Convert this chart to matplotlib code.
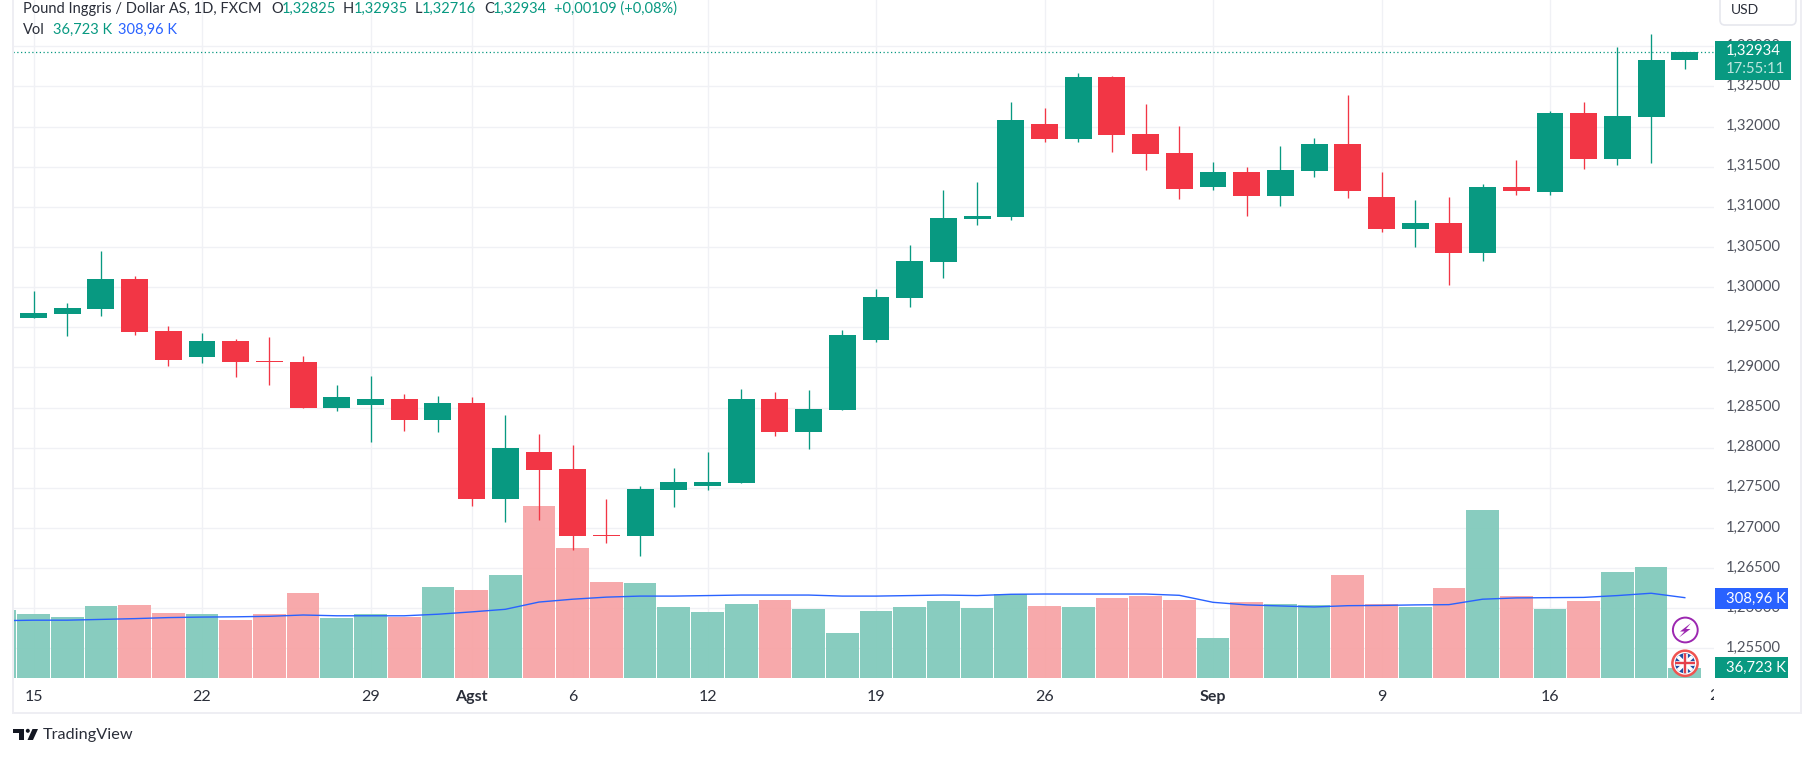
import numpy as np
import matplotlib
matplotlib.use("Agg")
import matplotlib.pyplot as plt
from matplotlib.patches import Circle, FancyBboxPatch, Polygon, Rectangle
from matplotlib.transforms import Bbox, ScaledTranslation

plt.rcParams["font.family"] = ["Lato", "DejaVu Sans"]

UP = "#089981"
DOWN = "#F23645"
UP_VOL = "#84CBBD"
DOWN_VOL = "#F7A6A8"
MA_BLUE = "#2962FF"
GRID = "#F0F1F5"
FRAME = "#EEEEF3"
TEXT = "#2A2E39"

open_ = [1.29615, 1.29665, 1.29727, 1.30101, 1.29453, 1.29129, 1.29329, 1.29080, 1.29067, 1.28494,
         1.28532, 1.28606, 1.28345, 1.28556, 1.27360, 1.27946, 1.27734, 1.26912, 1.26900, 1.27473,
         1.27522, 1.27560, 1.28606, 1.28195, 1.28469, 1.29341, 1.29865, 1.30313, 1.30849, 1.30874,
         1.32032, 1.31845, 1.32618, 1.31908, 1.31671, 1.31247, 1.31434, 1.31135, 1.31447, 1.31783,
         1.31123, 1.30724, 1.30799, 1.30425, 1.31247, 1.31185, 1.32169, 1.31596, 1.32119, 1.32825]
high = [1.29952, 1.29802, 1.30450, 1.30139, 1.29516, 1.29428, 1.29354, 1.29379, 1.29142, 1.28781,
        1.28893, 1.28669, 1.28644, 1.28631, 1.28407, 1.28170, 1.28033, 1.27360, 1.27522, 1.27747,
        1.27946, 1.28731, 1.28693, 1.28718, 1.29466, 1.29977, 1.30525, 1.31210, 1.31310, 1.32306,
        1.32232, 1.32668, 1.32630, 1.32281, 1.32007, 1.31559, 1.31497, 1.31758, 1.31858, 1.32393,
        1.31434, 1.31085, 1.31123, 1.31285, 1.31584, 1.32194, 1.32306, 1.32991, 1.33153, 1.32935]
low = [1.29615, 1.29391, 1.29640, 1.29404, 1.29017, 1.29055, 1.28880, 1.28781, 1.28494, 1.28457,
       1.28071, 1.28208, 1.28195, 1.27273, 1.27074, 1.27099, 1.26725, 1.26812, 1.26650, 1.27261,
       1.27473, 1.27560, 1.28145, 1.27983, 1.28469, 1.29316, 1.29752, 1.30114, 1.30774, 1.30836,
       1.31808, 1.31808, 1.31683, 1.31459, 1.31098, 1.31210, 1.30886, 1.31011, 1.31372, 1.31110,
       1.30687, 1.30500, 1.30026, 1.30325, 1.31148, 1.31148, 1.31472, 1.31521, 1.31546, 1.32716]
close = [1.29678, 1.29740, 1.30101, 1.29441, 1.29092, 1.29329, 1.29067, 1.29067, 1.28494, 1.28631,
         1.28606, 1.28345, 1.28556, 1.27360, 1.27996, 1.27722, 1.26900, 1.26900, 1.27485, 1.27572,
         1.27572, 1.28606, 1.28195, 1.28482, 1.29404, 1.29877, 1.30325, 1.30861, 1.30886, 1.32082,
         1.31845, 1.32618, 1.31895, 1.31658, 1.31222, 1.31434, 1.31135, 1.31459, 1.31783, 1.31198,
         1.30724, 1.30799, 1.30425, 1.31247, 1.31198, 1.32169, 1.31596, 1.32132, 1.32830, 1.32934]

# volume in K, one bar more on the left edge of the pane (index -1, up day)
prev_volume = 261
prev_ma = 220
volume = [246, 234, 277, 281, 250, 246, 223, 246, 327, 230,
          246, 234, 350, 339, 396, 663, 501, 369, 366, 273,
          254, 284, 300, 265, 173, 257, 273, 296, 269, 323,
          277, 273, 308, 315, 300, 153, 292, 284, 281, 396,
          284, 273, 346, 647, 315, 265, 296, 408, 427, 36.723]
vol_ma = [222, 222, 225, 228, 232, 234, 235, 237, 242, 239,
          239, 239, 245, 254, 264, 292, 303, 311, 315, 315,
          317, 319, 319, 319, 315, 315, 317, 319, 317, 322,
          323, 323, 323, 323, 318, 291, 281, 277, 273, 278,
          279, 281, 282, 303, 308, 309, 310, 317, 326, 308.96]

time_ticks = [0, 5, 10, 13, 16, 20, 25, 30, 35, 40, 45]
time_labels = ["15", "22", "29", "Agst", "6", "12", "19", "26", "Sep", "9", "16"]
price_ticks = [1.255, 1.26, 1.265, 1.27, 1.275, 1.28, 1.285, 1.29, 1.295,
               1.30, 1.305, 1.31, 1.315, 1.32, 1.325, 1.33]

W, H = 1814, 757
PANE_L, PANE_R, PANE_B = 13, 1714, 677.7
STEP = 33.7
X0 = 33.5

fig = plt.figure(figsize=(W / 100, H / 100), dpi=100, facecolor="white")
pos = [PANE_L / W, 1 - PANE_B / H, (PANE_R - PANE_L) / W, PANE_B / H]
xlim = ((PANE_L - X0) / STEP, (PANE_R - X0) / STEP)
price_lim = (1.335768 - PANE_B * 0.00012458, 1.335768)
vol_lim = (0, PANE_B * 3.86)

ax_grid = fig.add_axes(pos, zorder=1)
ax_vol = fig.add_axes(pos, zorder=2)
ax_price = fig.add_axes(pos, zorder=3)
for ax in (ax_grid, ax_vol, ax_price):
    ax.set_xlim(xlim)
    for s in ax.spines.values():
        s.set_visible(False)
ax_grid.set_ylim(price_lim)
ax_price.set_ylim(price_lim)
ax_vol.set_ylim(vol_lim)
ax_vol.patch.set_visible(False)
ax_price.patch.set_visible(False)
ax_vol.set_xticks([])
ax_vol.set_yticks([])
ax_price.set_xticks([])
ax_price.set_yticks([])

ax_grid.set_yticks(price_ticks)
ax_grid.set_yticklabels([f"{p:.5f}".replace(".", ",") for p in price_ticks])
ax_grid.yaxis.tick_right()
ax_grid.tick_params(axis="y", length=0, pad=8.5, labelsize=10.7, labelcolor="#50535E")
# scale labels sit about 2 px above their grid line
up_shift = ScaledTranslation(0, 2 / 100, fig.dpi_scale_trans)
for lab in ax_grid.get_yticklabels():
    lab.set_transform(lab.get_transform() + up_shift)
ax_grid.set_xticks(time_ticks)
ax_grid.set_xticklabels(time_labels)
ax_grid.tick_params(axis="x", length=0, pad=9, labelsize=11.5, labelcolor=TEXT)
for lab in ax_grid.get_xticklabels():
    if lab.get_text() in ("Agst", "Sep"):
        lab.set_fontweight("bold")
ax_grid.grid(True, color=GRID, lw=1.0)
ax_grid.set_axisbelow(True)

# next label is cut off by the price scale
cut = ax_grid.text(50, -0.0263, "23", transform=ax_grid.get_xaxis_transform(), ha="center", va="center",
                   fontsize=11.5, color=TEXT)
cut.set_clip_box(Bbox([[0, 0], [PANE_R, H]]))
cut.set_clip_on(True)

open_a, high_a, low_a, close_a = map(np.array, (open_, high, low, close))
x = np.arange(len(open_a))
colors = [UP if c >= o else DOWN for o, c in zip(open_a, close_a)]
vol_colors = [UP_VOL] + [UP_VOL if c == UP else DOWN_VOL for c in colors]

ax_vol.bar(np.r_[-1, x], np.r_[prev_volume, volume], width=0.97, color=vol_colors, linewidth=0, alpha=0.97)
ax_vol.plot(np.r_[-1, x], np.r_[prev_ma, vol_ma], color=MA_BLUE, lw=1.0, zorder=5)

ax_price.vlines(x, low_a, high_a, colors=colors, lw=0.95)
ax_price.bar(x, np.abs(close_a - open_a), bottom=np.minimum(open_a, close_a), width=0.8, color=colors, linewidth=0)
ax_price.axhline(close_a[-1], color=UP, lw=0.9, ls=(0, (1, 2)))

# page furniture and price scale tags, in pixels
ov = fig.add_axes([0, 0, 1, 1], zorder=10)
ov.set_xlim(0, W)
ov.set_ylim(H, 0)
ov.axis("off")

ov.add_patch(Rectangle((12, 0), 2.2, 713.5, color=FRAME, lw=0))
ov.add_patch(Rectangle((1800, 0), 2.4, 713.5, color=FRAME, lw=0))
ov.add_patch(Rectangle((12, 711.8), 1790, 2, color=FRAME, lw=0))
ov.add_patch(FancyBboxPatch((1720, -12), 76, 37, boxstyle="round,pad=0,rounding_size=5",
                            fc="white", ec="#E6E7EE", lw=1.2))
ov.text(1731, 9.5, "USD", fontsize=10, color=TEXT, va="center")

ov.add_patch(Rectangle((1715, 41), 75.5, 39, color=UP, lw=0))
ov.text(1726, 51, f"{close_a[-1]:.5f}".replace(".", ","), fontsize=10.7, color="white", va="center")
ov.text(1726, 69, "17:55:11", fontsize=10.7, color="#BFE6DF", va="center")
ov.add_patch(Rectangle((1715, 588), 73, 21, color=MA_BLUE, lw=0))
ov.text(1726, 598.5, "308,96 K", fontsize=10.7, color="white", va="center")
ov.add_patch(Rectangle((1715, 657), 73, 20.7, color=UP, lw=0))
ov.text(1726, 667.5, "36,723 K", fontsize=10.7, color="white", va="center")

# legend rows
row1 = [(23, "Pound Inggris / Dollar AS, 1D, FXCM", TEXT), (271, "O", TEXT), (282, "1,32825", UP),
        (343, "H", TEXT), (354, "1,32935", UP), (415, "L", TEXT), (422, "1,32716", UP),
        (484, "C", TEXT), (493, "1,32934", UP), (554.5, "+0,00109 (+0,08%)", UP)]
for px, s, c in row1:
    ov.text(px, 9, s, fontsize=10.5, color=c, va="center")
for px, s, c in [(23, "Vol", TEXT), (52.7, "36,723 K", UP), (118, "308,96 K", MA_BLUE)]:
    ov.text(px, 30, s, fontsize=10.5, color=c, va="center")

# lightning badge
ov.add_patch(Circle((1685.3, 630), 12.4, fc="white", ec="#9C27B0", lw=1.4))
ov.add_patch(Polygon([(1691, 623), (1680, 631.5), (1684.5, 631.5), (1679, 637.5), (1690.5, 629), (1686, 629)],
                     closed=True, fc="#9C27B0", ec="none"))

# flag badge
ov.add_patch(Circle((1685, 663.3), 12.6, fc="white", ec="#EF5350", lw=1.8))
flag_bg = Circle((1685, 663.3), 10, fc="#1F4FA3", ec="none")
ov.add_patch(flag_bg)
for (a, b), lw, c in [(((1675, 654), (1695, 673)), 2.6, "white"), (((1695, 654), (1675, 673)), 2.6, "white"),
                      (((1685, 653), (1685, 674)), 3.4, "white"), (((1675, 663.3), (1695, 663.3)), 3.4, "white"),
                      (((1685, 653), (1685, 674)), 1.7, "#E5404B"), (((1675, 663.3), (1695, 663.3)), 1.7, "#E5404B")]:
    ln, = ov.plot([a[0], b[0]], [a[1], b[1]], color=c, lw=lw, solid_capstyle="butt")
    ln.set_clip_path(flag_bg)

# TradingView mark
LOGO = "#131722"
ov.add_patch(Polygon([(13, 729), (23.5, 729), (23.5, 740), (18.5, 740), (18.5, 733.2), (13, 733.2)], closed=True, fc=LOGO, ec="none"))
ov.add_patch(Circle((27.8, 730.8), 2.0, fc=LOGO, ec="none"))
ov.add_patch(Polygon([(32.5, 729), (38, 729), (33, 740), (27.5, 740)], closed=True, fc=LOGO, ec="none"))
ov.text(43, 735, "TradingView", fontsize=11.7, color="#2A2E39", va="center")

fig.savefig("out.png", dpi=100)
